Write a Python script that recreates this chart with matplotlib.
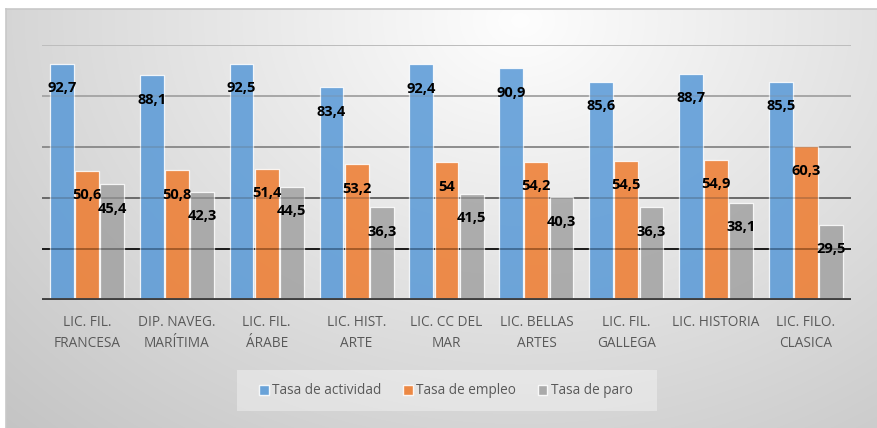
import numpy as np
import matplotlib
matplotlib.use("Agg")
import matplotlib.pyplot as plt
from matplotlib.patches import Rectangle

categories = ["LIC. FIL.\nFRANCESA", "DIP. NAVEG.\nMARÍTIMA", "LIC. FIL.\nÁRABE",
              "LIC. HIST.\nARTE", "LIC. CC DEL\nMAR", "LIC. BELLAS\nARTES",
              "LIC. FIL.\nGALLEGA", "LIC. HISTORIA", "LIC. FILO.\nCLASICA"]
actividad = [92.7, 88.1, 92.5, 83.4, 92.4, 90.9, 85.6, 88.7, 85.5]
empleo = [50.6, 50.8, 51.4, 53.2, 54, 54.2, 54.5, 54.9, 60.3]
paro = [45.4, 42.3, 44.5, 36.3, 41.5, 40.3, 36.3, 38.1, 29.5]
series_names = ["Tasa de actividad", "Tasa de empleo", "Tasa de paro"]
colors = ["#5899D7", "#EE7B2E", "#A2A2A2"]

W, H = 878, 428
fig = plt.figure(figsize=(W / 100, H / 100), dpi=100)

# background radial gradient
bg = fig.add_axes([0, 0, 1, 1], zorder=-10)
yy, xx = np.mgrid[0:H, 0:W]
cx, cy = 520, 20
d = np.sqrt(((xx - cx) / 620.0) ** 2 + ((yy - cy) / 480.0) ** 2)
v = 0.995 - 0.19 * np.clip(d, 0, 1.2) / 1.0
img = np.dstack([v, v, v])
img[:9, :, :] = 1.0
img[:, :6, :] = 1.0
bg.imshow(np.clip(img, 0, 1), extent=[0, W, H, 0], aspect="auto", interpolation="bilinear")
bg.plot([6, 6], [9, H], color="#C8C8C8", lw=1.2)
bg.plot([6, W], [9, 9], color="#C8C8C8", lw=1.2)
bg.set_xlim(0, W)
bg.set_ylim(H, 0)
bg.axis("off")

ax = fig.add_axes([42 / W, 1 - 300 / H, (851 - 42) / W, (300 - 45) / H])
ax.patch.set_alpha(0)
x = np.arange(len(categories))
bw = 0.265
step = 0.28
data = [actividad, empleo, paro]
for k, (vals, col) in enumerate(zip(data, colors)):
    pos = x + (k - 1) * step
    ax.bar(pos, vals, width=bw, color=col, edgecolor=(1, 1, 1, 0.3), linewidth=0.9,
           zorder=2, alpha=0.85, label=series_names[k])
    for px, val in zip(pos, vals):
        lab = f"{val:g}".replace(".", ",")
        ax.annotate(lab, (px, val), xytext=(0, -17.5), textcoords="offset points",
                    ha="center", va="center", fontsize=10.5, fontweight="bold",
                    family="Open Sans", color="#000000", zorder=5)

grid_colors = {20: "#1A1A1A", 40: "#6A6A6A", 60: "#8E8E8E", 80: "#A8A8A8", 100: "#BDBDBD"}
for gy, gc in grid_colors.items():
    ax.axhline(gy, color=gc, lw=1.4, zorder=1.5)
    ax.axhline(gy, color=gc, lw=1.4, alpha=0.22, zorder=2.5)
ax.axhline(0, color="#404040", lw=2.8, zorder=4)

ax.set_xlim(-0.5, len(categories) - 0.5)
ax.set_ylim(0, 100)
ax.set_yticks([])
ax.set_xticks(x)
ax.set_xticklabels(categories, fontsize=9.8, family="Open Sans", color="#595959", linespacing=1.55)
ax.tick_params(axis="x", length=0, pad=11)
for s in ax.spines.values():
    s.set_visible(False)

# legend box
fig.patches.append(Rectangle((237 / W, 1 - 411 / H), (657 - 237) / W, 41 / H,
                             transform=fig.transFigure, facecolor="white", alpha=0.35,
                             edgecolor="none", zorder=-5))
handles = [Rectangle((0, 0), 1, 1, facecolor=c, alpha=0.88, edgecolor=(1, 1, 1, 0.6)) for c in colors]
leg = fig.legend(handles, series_names, loc="center", bbox_to_anchor=(446 / W, 1 - 391 / H),
                 ncol=3, frameon=False, handlelength=0.7, handleheight=0.7, handletextpad=0.25,
                 columnspacing=1.6, prop={"family": "Open Sans", "size": 9.8})
for t in leg.get_texts():
    t.set_color("#595959")

fig.savefig("out.png", dpi=100)
